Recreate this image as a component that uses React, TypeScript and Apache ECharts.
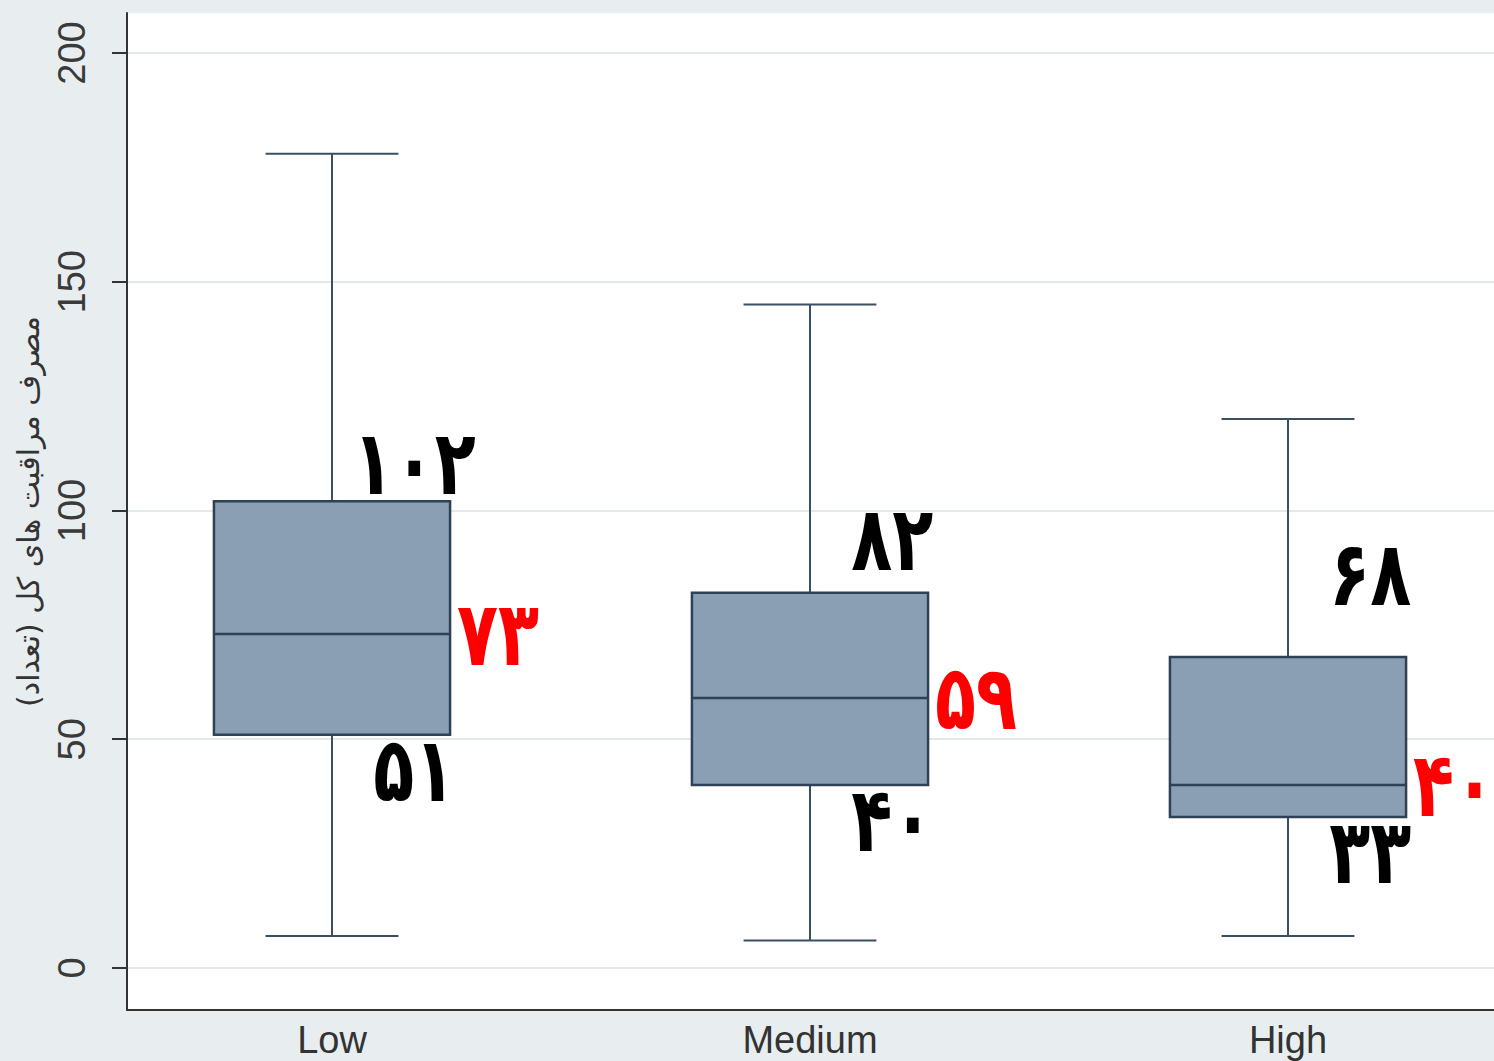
import React, { useEffect, useRef } from "react";
import * as echarts from "echarts";

// Care-consumption groups and their five-number summaries
const categories = ["Low", "Medium", "High"];
const whiskerLow = [7, 6, 7];
const quartile1 = [51, 40, 33];
const medians = [73, 59, 40];
const quartile3 = [102, 82, 68];
const whiskerHigh = [178, 145, 120];

const yTicks = [0, 50, 100, 150, 200];
const xTicks = [0, 1, 2];
const yTitle = "مصرف مراقبت های کل (تعداد)";

// pixel gap between the Q3 line and the bottom of its label, per group
const q3LabelGap = [-6, 9, 38];

const faDigits = "۰۱۲۳۴۵۶۷۸۹";
const toFa = (n: number) =>
  String(Math.round(n)).replace(/[0-9]/g, (d) => faDigits[Number(d)]);

const BG = "#e8eef0";
const BOX_FILL = "#8a9fb4";
const BOX_EDGE = "#2f4255";
const WHISKER = "#3b4f63";
const LABEL_FONT = 'bold 80px "DejaVu Sans", sans-serif';
const LATIN = '"Liberation Sans", Arial, sans-serif';

export default function App() {
  const ref = useRef<HTMLDivElement>(null);

  useEffect(() => {
    document.body.style.margin = "0";
    const chart = echarts.init(ref.current!, undefined, { renderer: "svg" });

    const rows = categories.map((_, i) => [
      i,
      whiskerLow[i],
      quartile1[i],
      medians[i],
      quartile3[i],
      whiskerHigh[i],
    ]);

    chart.setOption({
      animation: false,
      backgroundColor: BG,
      grid: {
        left: 127,
        right: 0,
        top: 13,
        bottom: 51,
        show: true,
        backgroundColor: "#ffffff",
        borderWidth: 0,
      },
      xAxis: {
        type: "value",
        min: -0.42887,
        max: 2.43096,
        axisLine: { onZero: false, lineStyle: { color: "#333333", width: 2 } },
        axisTick: { show: false },
        axisLabel: {
          customValues: xTicks,
          formatter: (v: number) => categories[Math.round(v)] ?? "",
          color: "#333333",
          fontSize: 38,
          fontFamily: LATIN,
          margin: 11,
        },
        splitLine: { show: false },
      },
      yAxis: {
        type: "value",
        min: -9.18,
        max: 208.74,
        name: yTitle,
        nameLocation: "middle",
        nameRotate: 90,
        nameGap: 84,
        nameTextStyle: {
          color: "#333333",
          fontSize: 30,
          fontFamily: '"DejaVu Sans", sans-serif',
        },
        axisLine: { show: true, onZero: false, lineStyle: { color: "#333333", width: 2 } },
        axisTick: {
          show: true,
          length: 15,
          customValues: yTicks,
          lineStyle: { color: "#333333", width: 2 },
        },
        axisLabel: {
          customValues: yTicks,
          rotate: 90,
          color: "#3a3a3a",
          fontSize: 38,
          fontFamily: LATIN,
          margin: 36,
        },
        splitLine: {
          show: true,
          lineStyle: { color: "#e3e8ea", width: 2 },
        },
      },
      series: [
        {
          type: "custom",
          data: rows,
          encode: { x: 0, y: [1, 2, 3, 4, 5] },
          clip: false,
          renderItem: (params: any, api: any) => {
            const i = api.value(0);
            const lo = api.value(1);
            const q1 = api.value(2);
            const med = api.value(3);
            const q3 = api.value(4);
            const hi = api.value(5);
            const [cx, yLo] = api.coord([i, lo]);
            const yQ1 = api.coord([i, q1])[1];
            const yMed = api.coord([i, med])[1];
            const yQ3 = api.coord([i, q3])[1];
            const yHi = api.coord([i, hi])[1];
            const band = api.size([1, 0])[0];
            const boxW = band * 0.494;
            const capW = band * 0.278;
            const labelDx = band * 0.172;
            const lineStyle = { stroke: WHISKER, lineWidth: 2 };
            const digitText = (
              text: string,
              x: number,
              y: number,
              fill: string,
              align: string,
              vAlign: string
            ) => ({
              type: "text",
              x,
              y,
              scaleX: 0.84,
              scaleY: 1.12,
              style: {
                text,
                fill,
                font: LABEL_FONT,
                textAlign: align,
                align,
                textVerticalAlign: vAlign,
                verticalAlign: vAlign,
              },
            });
            return {
              type: "group",
              children: [
                { type: "line", shape: { x1: cx, y1: yHi, x2: cx, y2: yQ3 }, style: lineStyle },
                { type: "line", shape: { x1: cx, y1: yQ1, x2: cx, y2: yLo }, style: lineStyle },
                { type: "line", shape: { x1: cx - capW / 2, y1: yHi, x2: cx + capW / 2, y2: yHi }, style: lineStyle },
                { type: "line", shape: { x1: cx - capW / 2, y1: yLo, x2: cx + capW / 2, y2: yLo }, style: lineStyle },
                {
                  type: "rect",
                  shape: { x: cx - boxW / 2, y: yQ3, width: boxW, height: yQ1 - yQ3 },
                  style: { fill: BOX_FILL, stroke: BOX_EDGE, lineWidth: 2.5 },
                },
                {
                  type: "line",
                  shape: { x1: cx - boxW / 2, y1: yMed, x2: cx + boxW / 2, y2: yMed },
                  style: { stroke: BOX_EDGE, lineWidth: 2.5 },
                },
                digitText(toFa(q3), cx + labelDx, yQ3 - q3LabelGap[i], "#000000", "center", "bottom"),
                digitText(toFa(med), cx + boxW / 2 + 7, yMed, "#ff0000", "left", "middle"),
                digitText(toFa(q1), cx + labelDx, yQ1 - 10, "#000000", "center", "top"),
              ],
            };
          },
        },
      ],
    });

    return () => chart.dispose();
  }, []);

  return <div ref={ref} style={{ width: 1494, height: 1061 }} />;
}
